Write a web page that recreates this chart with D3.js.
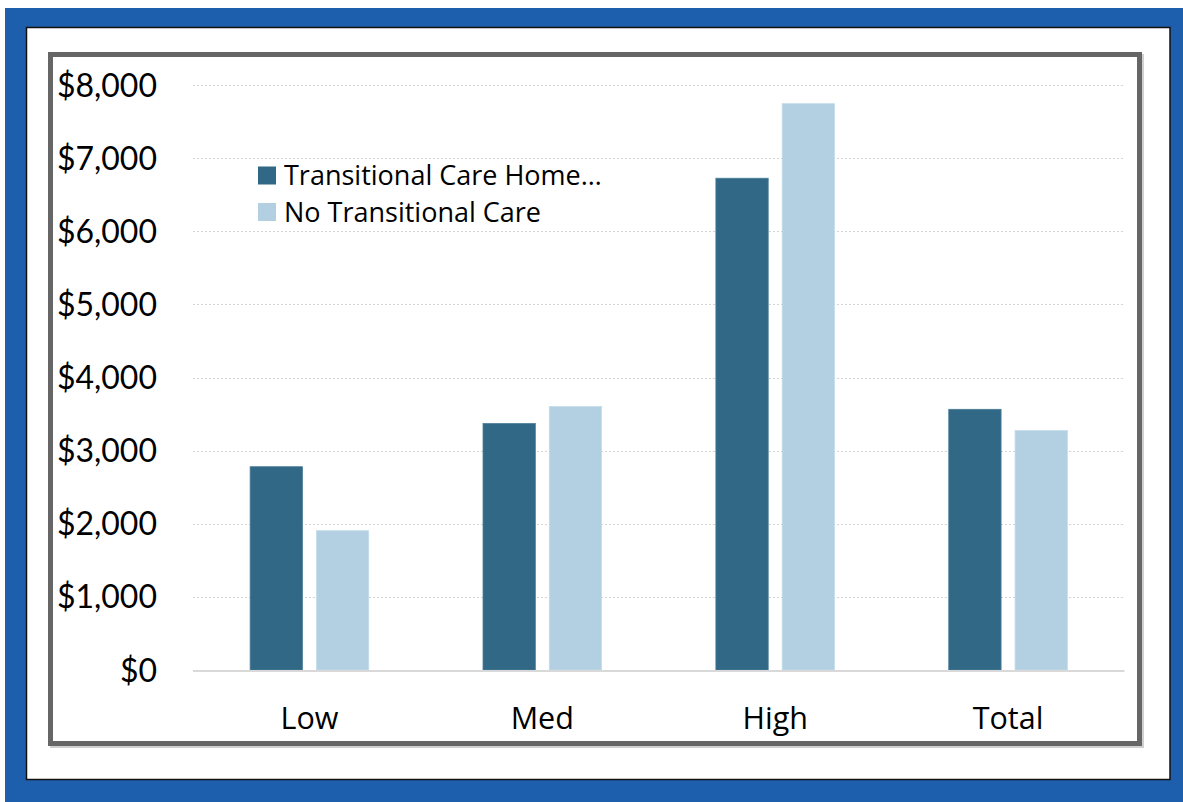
<!DOCTYPE html>
<html>
<head>
<meta charset="utf-8">
<script src="https://cdn.jsdelivr.net/npm/d3@7"></script>
<style>
  html, body { margin: 0; padding: 0; background: #ffffff; }
  svg { display: block; }
  text { font-family: Lato, "Open Sans", sans-serif; fill: #000; }
  .os { font-family: "Open Sans", Lato, sans-serif; }
</style>
</head>
<body>
<svg id="chart" width="1183" height="802"></svg>
<script>
// ---- data ----
const categories = ["Low", "Med", "High", "Total"];
const seriesNames = ["Transitional Care Home\u2026", "No Transitional Care"];
const transitionalCare = [2780, 3370, 6725, 3565];
const noTransitionalCare = [1905, 3605, 7745, 3275];
const yTicks = [0, 1000, 2000, 3000, 4000, 5000, 6000, 7000, 8000];
const seriesColors = ["#316886", "#b2d0e2"];
const seriesValues = [transitionalCare, noTransitionalCare];

const svg = d3.select("#chart");

// ---- frames ----
svg.append("rect").attr("x", 5).attr("y", 8).attr("width", 1178).attr("height", 794).attr("fill", "#1e5fad");
svg.append("rect").attr("x", 26.5).attr("y", 27.5).attr("width", 1143.5).attr("height", 752)
  .attr("fill", "#ffffff").attr("stroke", "#111").attr("stroke-width", 1.5);
// shadow of gray frame
svg.append("rect").attr("x", 52.5).attr("y", 56.5).attr("width", 1089).attr("height", 689)
  .attr("fill", "none").attr("stroke", "#d0d0d0").attr("stroke-width", 5);
svg.append("rect").attr("x", 50.5).attr("y", 54.5).attr("width", 1089).attr("height", 689)
  .attr("fill", "#ffffff").attr("stroke", "#666666").attr("stroke-width", 5);

// ---- scales ----
const x0 = d3.scaleBand().domain(categories).range([193, 1124.5]).paddingInner(0).paddingOuter(0);
const x1 = d3.scaleBand().domain(d3.range(seriesNames.length)).range([0, x0.bandwidth()])
  .paddingInner(0.211).paddingOuter(0.862);
const y = d3.scaleLinear().domain([0, 8000]).range([670, 85]);

// ---- gridlines ----
svg.append("g").selectAll("line").data(yTicks.filter(d => d > 0)).join("line")
  .attr("x1", 193).attr("x2", 1124.5)
  .attr("y1", d => Math.round(y(d)) + 0.5).attr("y2", d => Math.round(y(d)) + 0.5)
  .attr("stroke", "#d4d4d4").attr("stroke-width", 1).attr("stroke-dasharray", "2,2");

// ---- bars ----
const groups = svg.append("g").selectAll("g").data(categories).join("g")
  .attr("transform", d => `translate(${x0(d)},0)`);
groups.selectAll("rect").data((c, ci) => seriesValues.map((vals, si) => ({ si, v: vals[ci] }))).join("rect")
  .attr("x", d => x1(d.si))
  .attr("width", x1.bandwidth())
  .attr("y", d => y(d.v))
  .attr("height", d => y(0) - y(d.v))
  .attr("fill", d => seriesColors[d.si])
  .attr("stroke", d => d.si === 0 ? "#4a7b97" : "#c4dcea")
  .attr("stroke-width", 0.8);

// ---- baseline ----
svg.append("line").attr("x1", 193).attr("x2", 1124.5).attr("y1", 671).attr("y2", 671)
  .attr("stroke", "#d9d9d9").attr("stroke-width", 2);

// ---- y axis labels ----
const fmt = d => "$" + d3.format(",")(d);
svg.append("g").selectAll("text").data(yTicks).join("text")
  .attr("x", 157).attr("y", d => y(d)).attr("dy", "0.36em")
  .attr("text-anchor", "end").attr("font-size", 32)
  .text(fmt);

// ---- x axis labels ----
svg.append("g").selectAll("text").data(categories).join("text")
  .attr("class", "os")
  .attr("x", d => x0(d) + x0.bandwidth() / 2).attr("y", 729)
  .attr("text-anchor", "middle").attr("font-size", 30.5)
  .text(d => d);

// ---- legend ----
const legend = svg.append("g").selectAll("g").data(seriesNames).join("g")
  .attr("transform", (d, i) => `translate(258,${175.5 + i * 36.5})`);
legend.append("rect").attr("x", 0).attr("y", -9).attr("width", 18).attr("height", 18)
  .attr("fill", (d, i) => seriesColors[i]);
legend.append("text").attr("class", "os").attr("x", 26).attr("y", 0).attr("dy", "0.36em")
  .attr("font-size", 27).text(d => d);
</script>
</body>
</html>
